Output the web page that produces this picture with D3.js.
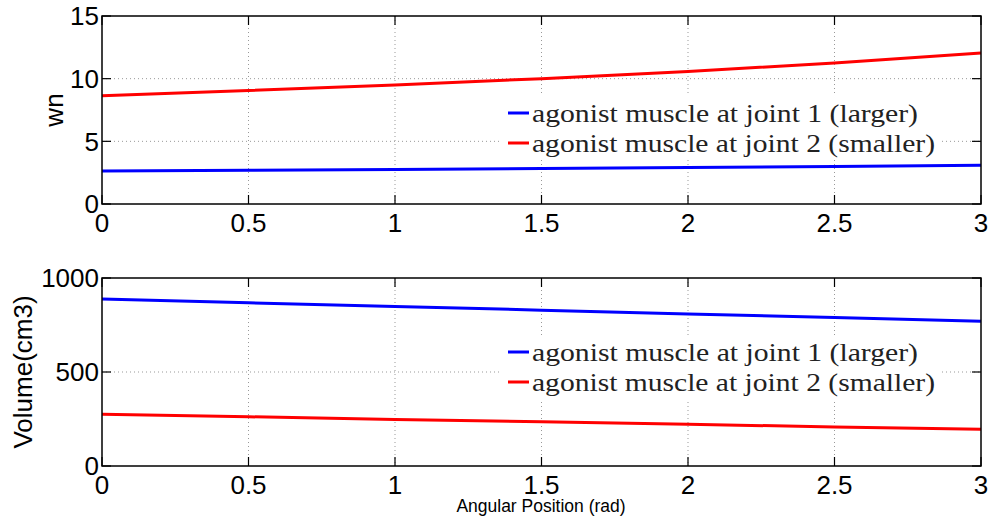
<!DOCTYPE html>
<html>
<head>
<meta charset="utf-8">
<script src="https://cdn.jsdelivr.net/npm/d3@7"></script>
<style>
  body { margin: 0; background: #fff; }
  svg { display: block; }
</style>
</head>
<body>
<svg id="chart" width="994" height="517"></svg>
<script>
const angle = [0, 0.5, 1, 1.5, 2, 2.5, 3];
const wnLarger = [2.63, 2.69, 2.76, 2.83, 2.91, 2.99, 3.09];
const wnSmaller = [8.64, 9.05, 9.5, 10.0, 10.58, 11.25, 12.05];
const volLarger = [888, 868, 849, 829, 809, 790, 770];
const volSmaller = [275, 262, 248, 235, 222, 208, 195];
const xTicks = [0, 0.5, 1, 1.5, 2, 2.5, 3];
const wnTicks = [0, 5, 10, 15];
const volTicks = [0, 500, 1000];
const legendLabels = ['agonist muscle at joint 1 (larger)', 'agonist muscle at joint 2 (smaller)'];
const colors = ['#0000ff', '#ff0000'];

const svg = d3.select('#chart');
const left = 102, right = 981;
const sans = 'Liberation Sans, Arial, sans-serif';

function drawPanel(top, bottom, yMax, yTicks, yLabel, series, legendY) {
  const x = d3.scaleLinear().domain([0, 3]).range([left, right]);
  const y = d3.scaleLinear().domain([0, yMax]).range([bottom, top]);
  const g = svg.append('g');

  // 网格
  g.selectAll('.vgrid')
    .data(xTicks.slice(1, -1))
    .join('line')
    .attr('x1', (d) => x(d)).attr('x2', (d) => x(d))
    .attr('y1', top).attr('y2', bottom)
    .attr('stroke', '#999').attr('stroke-width', 1).attr('stroke-dasharray', '1,3');
  g.selectAll('.hgrid')
    .data(yTicks.slice(1, -1))
    .join('line')
    .attr('x1', left).attr('x2', right)
    .attr('y1', (d) => y(d)).attr('y2', (d) => y(d))
    .attr('stroke', '#999').attr('stroke-width', 1).attr('stroke-dasharray', '1,3');

  // 刻度 (inward, both sides)
  const tl = 9;
  xTicks.forEach((t) => {
    g.append('line').attr('x1', x(t)).attr('x2', x(t)).attr('y1', bottom).attr('y2', bottom - tl)
      .attr('stroke', '#000').attr('stroke-width', 1.2);
    g.append('line').attr('x1', x(t)).attr('x2', x(t)).attr('y1', top).attr('y2', top + tl)
      .attr('stroke', '#000').attr('stroke-width', 1.2);
  });
  yTicks.forEach((t) => {
    g.append('line').attr('x1', left).attr('x2', left + tl).attr('y1', y(t)).attr('y2', y(t))
      .attr('stroke', '#000').attr('stroke-width', 1.2);
    g.append('line').attr('x1', right).attr('x2', right - tl).attr('y1', y(t)).attr('y2', y(t))
      .attr('stroke', '#000').attr('stroke-width', 1.2);
  });

  // 刻度标签
  g.selectAll('.xlab')
    .data(xTicks)
    .join('text')
    .attr('x', (d) => x(d))
    .attr('y', bottom + 28)
    .attr('text-anchor', 'middle')
    .style('font-family', sans)
    .style('font-size', '26px')
    .text((d) => d);
  g.selectAll('.ylab')
    .data(yTicks)
    .join('text')
    .attr('x', left - 3)
    .attr('y', (d) => y(d))
    .attr('dy', '0.36em')
    .attr('text-anchor', 'end')
    .style('font-family', sans)
    .style('font-size', '26px')
    .text((d) => d);

  // Y 轴标题
  g.append('text')
    .attr('transform', `translate(${yLabel.x},${(top + bottom) / 2}) rotate(-90)`)
    .attr('text-anchor', 'middle')
    .style('font-family', sans)
    .style('font-size', '26px')
    .text(yLabel.text);

  // 折线
  const line = d3.line().x((d) => x(d[0])).y((d) => y(d[1]));
  series.forEach((s, i) => {
    g.append('path')
      .datum(angle.map((a, j) => [a, s[j]]))
      .attr('fill', 'none')
      .attr('stroke', colors[i])
      .attr('stroke-width', 3)
      .attr('d', line);
  });

  // 图例
  g.append('rect')
    .attr('x', 500).attr('y', top + legendY - 17)
    .attr('width', 440).attr('height', 64)
    .attr('fill', '#fff');
  legendLabels.forEach((lab, i) => {
    const ly = top + legendY + i * 30;
    g.append('line')
      .attr('x1', 508).attr('x2', 529).attr('y1', ly).attr('y2', ly)
      .attr('stroke', colors[i]).attr('stroke-width', 3);
    g.append('text')
      .attr('x', 532).attr('y', ly).attr('dy', '0.35em')
      .attr('textLength', i === 0 ? 386 : 403)
      .attr('lengthAdjust', 'spacingAndGlyphs')
      .style('font-family', 'Liberation Serif, Times New Roman, serif')
      .style('font-size', '25px')
      .attr('fill', '#222')
      .text(lab);
  });

  // 边框
  g.append('rect')
    .attr('x', left).attr('y', top)
    .attr('width', right - left).attr('height', bottom - top)
    .attr('fill', 'none').attr('stroke', '#000').attr('stroke-width', 1.5);
}

drawPanel(16, 204, 15, wnTicks, { text: 'wn', x: 63 }, [wnLarger, wnSmaller], 97);
drawPanel(278, 466, 1000, volTicks, { text: 'Volume(cm3)', x: 32 }, [volLarger, volSmaller], 74);

svg.append('text')
  .attr('x', 541).attr('y', 512)
  .attr('text-anchor', 'middle')
  .style('font-family', sans)
  .style('font-size', '17.5px')
  .text('Angular Position (rad)');
</script>
</body>
</html>
